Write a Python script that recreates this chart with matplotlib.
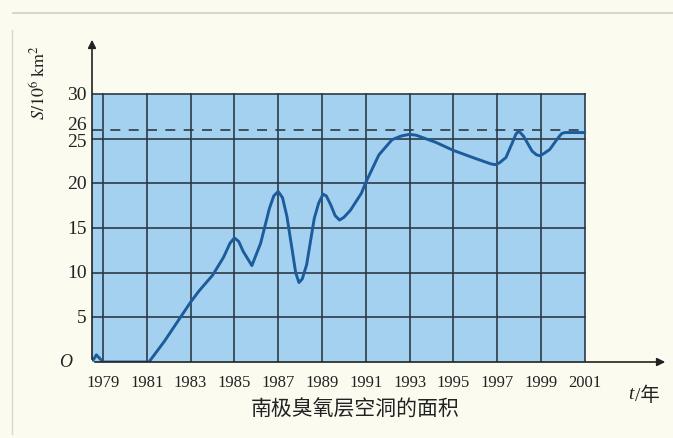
import matplotlib
matplotlib.use('Agg')
import matplotlib.pyplot as plt
from matplotlib.lines import Line2D

plt.rcParams['font.family'] = ['Liberation Serif', 'Noto Sans CJK SC', 'DejaVu Sans']
plt.rcParams['mathtext.fontset'] = 'stix'

# values
years = [1978.55, 1978.7, 1978.95, 1979.0, 1980.0, 1981.1, 1981.8, 1982.4, 1983.0,
         1983.4, 1984.0, 1984.5, 1984.8, 1985.0, 1985.2, 1985.4, 1985.8, 1986.2,
         1986.6, 1986.8, 1987.0, 1987.2, 1987.4, 1987.65, 1987.8, 1987.95, 1988.1,
         1988.3, 1988.65, 1988.85, 1989.05, 1989.2, 1989.4, 1989.6, 1989.8, 1990.0,
         1990.3, 1990.8, 1991.0, 1991.6, 1992.2, 1992.6, 1993.0, 1993.3, 1994.2,
         1995.0, 1996.0, 1996.7, 1996.9, 1997.1, 1997.4, 1997.7, 1997.85, 1997.95,
         1998.05, 1998.2, 1998.6, 1998.8, 1998.95, 1999.1, 1999.4, 1999.75, 1999.95,
         2000.1, 2001.0]
area = [0.2, 0.8, 0.15, 0.0, 0.0, 0.0, 2.3, 4.5, 6.7,
        8.0, 9.7, 11.7, 13.3, 13.9, 13.5, 12.4, 10.8, 13.3,
        17.2, 18.6, 19.1, 18.4, 16.3, 12.4, 10.0, 8.9, 9.3,
        10.9, 16.1, 17.8, 18.8, 18.6, 17.6, 16.4, 15.9, 16.2,
        17.0, 18.9, 20.1, 23.2, 24.9, 25.3, 25.5, 25.4, 24.6,
        23.7, 22.8, 22.2, 22.1, 22.3, 22.9, 24.6, 25.5, 25.8,
        25.7, 25.3, 23.6, 23.2, 23.1, 23.3, 23.8, 25.0, 25.6,
        25.7, 25.7]
xticks = list(range(1979, 2002, 2))
yticks = [5, 10, 15, 20, 25, 30]
ref_level = 26
title = '南极臭氧层空洞的面积'

bg = '#fbfbf0'
ink = '#2c3a48'
txt = '#222222'
fig = plt.figure(figsize=(6.73, 4.39), dpi=100, facecolor=bg)
ax = fig.add_axes([92 / 673, 76 / 439, 576 / 673, 325 / 439])
ax.set_facecolor('none')
x0, x1 = 1978.5, 2001
ax.set_xlim(x0, 2004.8)
ax.set_ylim(0, 36.4)
for s in ax.spines.values():
    s.set_visible(False)
ax.set_xticks([])
ax.set_yticks([])

# blue panel and grid
ax.fill_between([x0, x1], 0, 30, color='#a4d1ef', zorder=0, lw=0)
for y in yticks:
    ax.plot([x0, x1], [y, y], color=ink, lw=1.2, zorder=1)
for x in xticks:
    ax.plot([x, x], [0, 30], color=ink, lw=1.2, zorder=1)
ax.plot([x0, x1], [ref_level, ref_level], color=ink, lw=1.2, ls=(0, (6, 5)), zorder=1)

# curve
ax.plot(years, area, color='#1c5c9c', lw=2.1, solid_joinstyle='round',
        solid_capstyle='round', zorder=3)

# axes with arrows
ax.annotate('', xy=(2004.8, 0), xytext=(x0, 0), annotation_clip=False,
            arrowprops=dict(arrowstyle='-|>', color=txt, lw=1.2, mutation_scale=12))
ax.annotate('', xy=(x0, 36.4), xytext=(x0, 0), annotation_clip=False,
            arrowprops=dict(arrowstyle='-|>', color=txt, lw=1.2, mutation_scale=12))

# tick labels
for x in xticks:
    ax.text(x, -1.3, str(x), ha='center', va='top', fontsize=12, color=txt)
for y in yticks:
    dy = -0.3 if y == 25 else 0
    ax.text(x0 - 0.25, y + dy, str(y), ha='right', va='center', fontsize=14, color=txt)
ax.text(x0 - 0.25, ref_level + 0.6, str(ref_level), ha='right', va='center',
        fontsize=14, color=txt)
ax.text(x0 - 0.9, 0, 'O', ha='right', va='center', fontsize=13, style='italic',
        color=txt)

# axis names
ax.text(2003.0, -2.6, 't', ha='left', va='top', fontsize=14, style='italic', color=txt)
ax.text(2003.3, -2.6, '/年', ha='left', va='top', fontsize=14, color=txt,
        family=['Liberation Serif', 'Noto Sans CJK SC'])
fig.text(40 / 673, 1 - 82 / 439, r'$S/10^6\ \mathrm{km}^2$', ha='center', va='center',
         rotation=90, fontsize=13, color=txt)
fig.text(355 / 673, 1 - 410 / 439, title, ha='center', va='center', fontsize=15,
         family=['Noto Sans CJK SC', 'DejaVu Sans'], color=txt)

# page frame
fig.add_artist(Line2D([0.02, 1.0], [1 - 14 / 439] * 2, color='#cfcfc4', lw=1.2))
fig.add_artist(Line2D([12 / 673] * 2, [0.01, 0.93], color='#d8d8cc', lw=1.0))

fig.savefig('out.png', dpi=100, facecolor=bg)
